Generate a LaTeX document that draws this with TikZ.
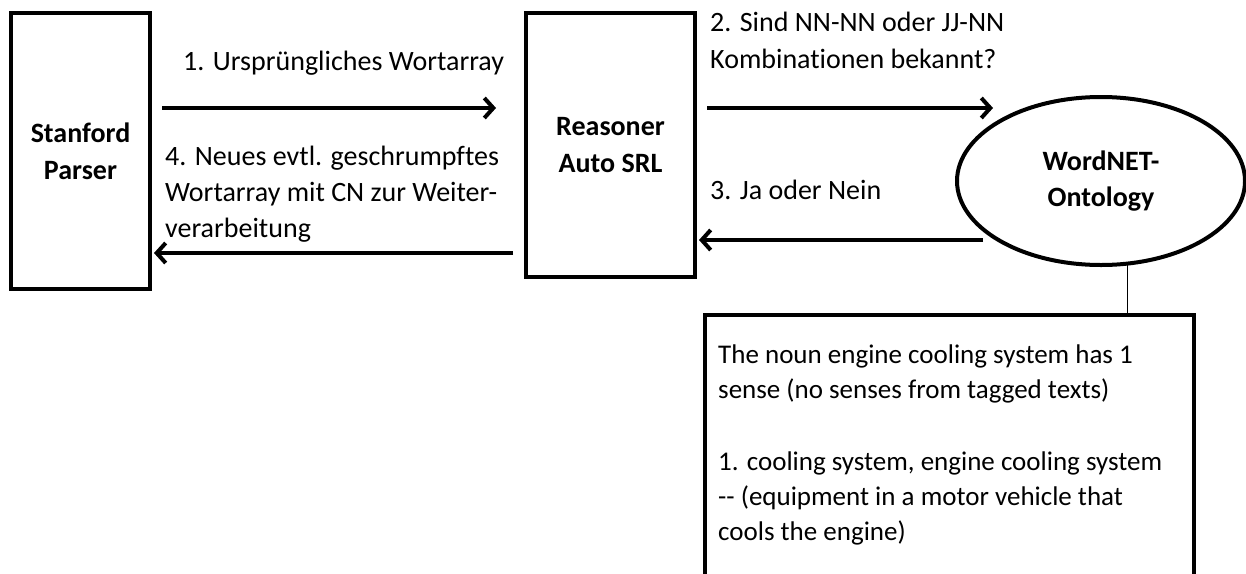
\documentclass[tikz,border=0pt]{standalone}
\usepackage{fontspec}
\setmainfont{Carlito}[Ligatures=NoCommon]
\usetikzlibrary{arrows.meta,calc,shapes.geometric}
\begin{document}
\begin{tikzpicture}[x=1pt,y=-1pt,
  box/.style={draw,line width=4pt,rectangle,inner sep=0pt,font=\bfseries\fontsize{28}{37}\selectfont,align=center},
  oval/.style={draw,line width=4pt,ellipse,inner sep=0pt,font=\bfseries\fontsize{28}{36}\selectfont,align=center},
  lbl/.style={anchor=base west,align=left,inner sep=0pt,font=\fontsize{28}{36}\selectfont},
  arr/.style={line width=4pt,-{Straight Barb[length=9pt,width=20pt,line width=4pt]}}]
\clip (0,0) rectangle (1246,573);
\useasboundingbox (0,0) rectangle (1246,573);
\fill[white] (0,0) rectangle (1246,573);
\node[box,minimum width=139pt,minimum height=276pt] (sp) at (80.5,151) {Stanford\\Parser};
\node[box,minimum width=169pt,minimum height=264pt] (rs) at (610.5,145) {Reasoner\\Auto SRL};
\node[oval,minimum width=288pt,minimum height=168pt] (on) at (1101,181) {WordNET-\\Ontology};
\node[draw,line width=4pt,rectangle,minimum width=489pt,minimum height=300pt,anchor=north west,inner sep=0pt] (sense) at (703,313) {};
\node[lbl,anchor=north west,font=\fontsize{27}{35}\selectfont] (sensetxt) at (718,345) {The noun engine cooling system has 1\\sense (no senses from tagged texts)\\[37pt]1. cooling system, engine cooling system\\-{}- (equipment in a motor vehicle that\\cools the engine)};
% arrows
\draw[arr] ($(sp.east |- 0,108)+(10,0)$) -- ($(rs.west |- 0,108)+(-28,0)$);
\draw[arr] ($(rs.west |- 0,253)+(-11,0)$) -- ($(sp.east |- 0,253)+(2,0)$);
\draw[arr] ($(rs.east |- 0,108)+(10,0)$) -- (993,108);
\coordinate (c3) at (983,240);
\draw[arr] (c3) -- ($(rs.east |- c3)+(2,0)$);
\coordinate (ct) at (1127,264);
\draw[line width=1pt] (ct) -- (ct |- sense.north);
% labels
\node[lbl] (l1) at (183,70) {1. Ursprüngliches Wortarray};
\node[lbl,anchor=north west] (l4) at (165,146) {4. Neues evtl. geschrumpftes\\Wortarray mit CN zur Weiter-\\verarbeitung};
\node[lbl,anchor=north west,font=\fontsize{28}{37}\selectfont] (l2) at (710,12) {2. Sind NN-NN oder JJ-NN\\Kombinationen bekannt?};
\node[lbl] (l3) at (710,199) {3. Ja oder Nein};
\end{tikzpicture}
\end{document}
